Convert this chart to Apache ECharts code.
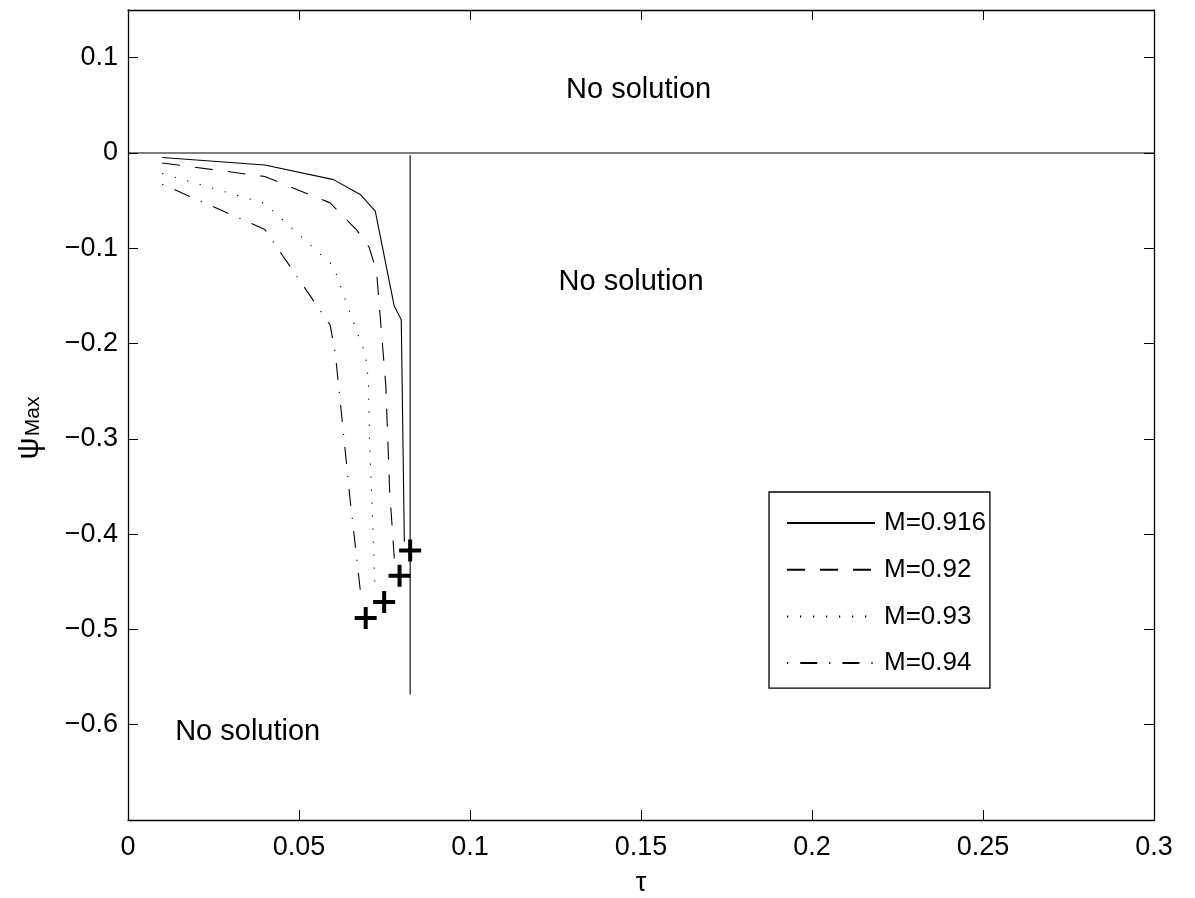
<!DOCTYPE html>
<html>
<head>
<meta charset="utf-8">
<script src="https://cdn.jsdelivr.net/npm/echarts@6/dist/echarts.min.js"></script>
<style>
  html, body { margin: 0; padding: 0; background: #fff; }
  #chart { width: 1195px; height: 898px; }
</style>
</head>
<body>
<div id="chart"></div>
<script>
    // curves, tau (x) and psi_max (y)
    var names = ['M=0.916', 'M=0.92', 'M=0.93', 'M=0.94'];
    var tau916 = [0.01, 0.04, 0.0601, 0.0679, 0.0723, 0.0778, 0.0799, 0.0808];
    var psi916 = [-0.0048, -0.0126, -0.028, -0.0436, -0.061, -0.160, -0.175, -0.408];
    var tau92 = [0.01, 0.04, 0.0591, 0.0669, 0.0705, 0.0718, 0.0728, 0.0754, 0.0765, 0.0779];
    var psi92 = [-0.0105, -0.0247, -0.0524, -0.081, -0.099, -0.114, -0.130, -0.245, -0.354, -0.427];
    var tau93 = [0.01, 0.04, 0.0601, 0.0653, 0.0680, 0.0694, 0.0703, 0.0706, 0.0713, 0.0720, 0.0723];
    var psi93 = [-0.0216, -0.053, -0.119, -0.1715, -0.198, -0.211, -0.239, -0.30, -0.364, -0.434, -0.462];
    var tau94 = [0.01, 0.04, 0.0591, 0.0606, 0.0628, 0.0648, 0.0681];
    var psi94 = [-0.0328, -0.0803, -0.1806, -0.210, -0.287, -0.359, -0.4647];

    // end markers (+)
    var markTau = [0.0825, 0.0794, 0.0749, 0.0695];
    var markPsi = [-0.4172, -0.4437, -0.4713, -0.488];

    // boundary lines
    var zeroTau = [0, 0.3];
    var zeroPsi = [0, 0];
    var limTau = [0.0825, 0.0825];
    var limPsi = [-0.0024, -0.5684];

    // region texts
    var noteText = ['No solution', 'No solution', 'No solution'];
    var noteTau = [0.1493, 0.1471, 0.0350];
    var notePsi = [0.0665, -0.1355, -0.608];

    function pairs(xs, ys) {
        return xs.map(function (x, i) { return [x, ys[i]]; });
    }

    var font = "'Liberation Sans', Arial, sans-serif";
    var plus = 'path://M9,0 H13 V9 H22 V13 H13 V22 H9 V13 H0 V9 H9 Z';

    var chart = echarts.init(document.getElementById('chart'));

    var baseX = {
        type: 'value', min: 0, max: 0.3, interval: 0.05,
        axisLine: { show: true, onZero: false, lineStyle: { color: '#000', width: 1.3 } },
        axisTick: { show: true, inside: true, length: 10, lineStyle: { color: '#000', width: 1 } },
        splitLine: { show: false }
    };
    var baseY = {
        type: 'value', min: -0.7, max: 0.15, interval: 0.1,
        axisLine: { show: true, onZero: false, lineStyle: { color: '#000', width: 1.3 } },
        axisTick: { show: true, inside: true, length: 10, lineStyle: { color: '#000', width: 1 } },
        splitLine: { show: false }
    };

    function yLabel(v) {
        if (Math.abs(v + 0.7) < 1e-6 || Math.abs(v - 0.15) < 1e-6) return '';
        var r = Math.round(v * 10) / 10;
        if (r < 0) return '\u2212' + String(-r);
        return String(Math.abs(r));
    }

    var lineSeries = function (name, data, type) {
        return {
            name: name, type: 'line', data: data,
            symbol: 'none', showSymbol: false, silent: true,
            lineStyle: { color: '#000', width: 1.1, type: type },
            itemStyle: { color: '#000' },
            animation: false
        };
    };

    var option = {
        backgroundColor: '#fff',
        animation: false,
        textStyle: { fontFamily: font, color: '#000' },
        grid: { left: 128, right: 41, top: 10, bottom: 78, outerBoundsMode: 'none' },
        xAxis: [
            Object.assign({}, baseX, {
                position: 'bottom',
                axisLabel: { fontSize: 27, color: '#000', margin: 14, fontFamily: font },
                name: '\u03c4', nameLocation: 'middle', nameGap: 50,
                nameTextStyle: { fontSize: 27, color: '#000', fontFamily: font }
            }),
            Object.assign({}, baseX, { position: 'top', axisLabel: { show: false } })
        ],
        yAxis: [
            Object.assign({}, baseY, {
                position: 'left',
                axisLabel: { fontSize: 27, color: '#000', margin: 10, fontFamily: font, formatter: yLabel },
                name: '{a|\u03c8}{b|Max}', nameLocation: 'middle', nameGap: 84, nameRotate: 90,
                nameTextStyle: {
                    padding: [0, 26, 0, 0],
                    rich: {
                        a: { fontSize: 31, lineHeight: 30, verticalAlign: 'top', fontFamily: font, color: '#000' },
                        b: { fontSize: 21, lineHeight: 21, verticalAlign: 'bottom', padding: [15, 0, 0, 1], fontFamily: font, color: '#000' }
                    }
                }
            }),
            Object.assign({}, baseY, { position: 'right', axisLabel: { show: false } })
        ],
        legend: {
            data: names,
            orient: 'vertical',
            left: 769, top: 492,
            padding: [16, 4, 10, 17],
            itemWidth: 88, itemHeight: 14, itemGap: 16.7,
            itemStyle: { opacity: 0 },
            borderColor: '#000', borderWidth: 1.3, borderRadius: 0,
            backgroundColor: '#fff',
            textStyle: { fontSize: 26, lineHeight: 30, color: '#000', fontFamily: font, padding: [0, 0, 0, 4] },
            selectedMode: false
        },
        series: [
            lineSeries(names[0], pairs(tau916, psi916), 'solid'),
            lineSeries(names[1], pairs(tau92, psi92), [18, 15]),
            lineSeries(names[2], pairs(tau93, psi93), [1.2, 11.8]),
            lineSeries(names[3], pairs(tau94, psi94), [1.2, 12, 17, 12]),
            lineSeries('zero', pairs(zeroTau, zeroPsi), 'solid'),
            lineSeries('limit', pairs(limTau, limPsi), 'solid'),
            {
                name: 'ends', type: 'scatter', silent: true,
                data: pairs(markTau, markPsi),
                symbol: plus, symbolSize: 22,
                itemStyle: { color: '#000', opacity: 1 }
            },
            {
                name: 'notes', type: 'scatter', silent: true,
                data: noteText.map(function (t, i) { return { name: t, value: [noteTau[i], notePsi[i]] }; }),
                symbolSize: 0,
                itemStyle: { opacity: 1 },
                label: {
                    show: true, position: 'inside', formatter: '{b}', opacity: 1,
                    fontSize: 29, color: '#000', fontFamily: font
                }
            }
        ]
    };

    chart.setOption(option);
    window.addEventListener('resize', function () {
        chart.resize();
    });
</script>
</body>
</html>
